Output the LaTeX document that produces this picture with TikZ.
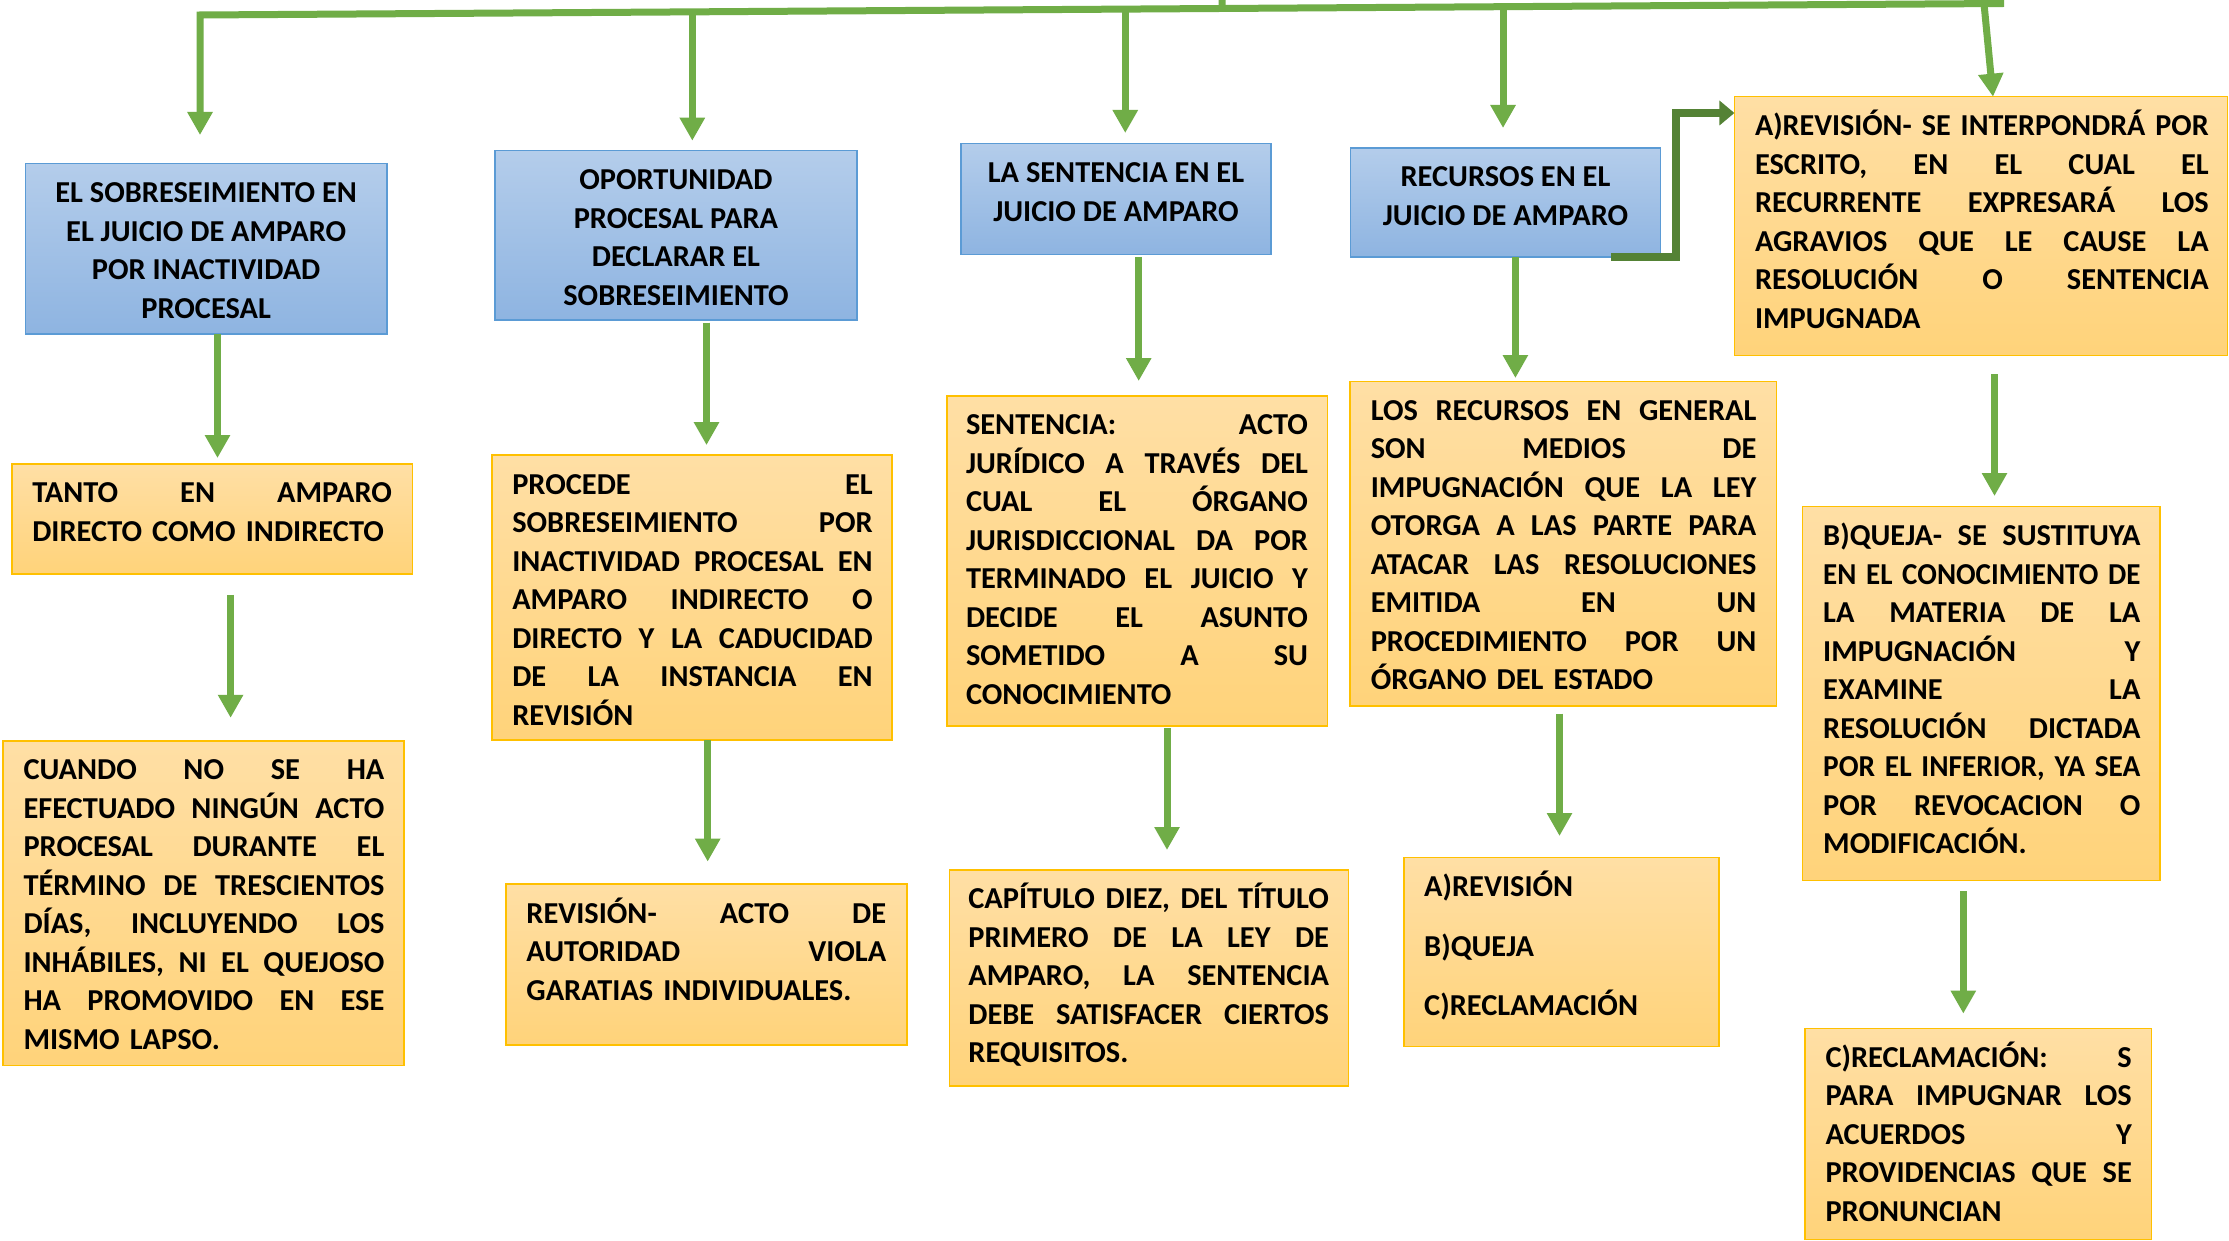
\documentclass[tikz,border=0pt]{standalone}
\usepackage{fontspec}
\setmainfont{Carlito}
\usepackage{graphicx}
\usetikzlibrary{arrows.meta,calc}
\definecolor{grn}{RGB}{112,173,71}
\definecolor{dgrn}{RGB}{84,130,53}
\definecolor{otop}{RGB}{255,223,165}
\definecolor{obot}{RGB}{255,211,122}
\definecolor{oline}{RGB}{255,192,0}
\definecolor{btop}{RGB}{180,205,235}
\definecolor{bbot}{RGB}{142,180,225}
\definecolor{bline}{RGB}{91,155,213}
\newsavebox\jlbox
\newcommand\jl[1]{\sbox\jlbox{#1}\ifdim\wd\jlbox>\hsize\relax\resizebox{\hsize}{\height}{\usebox\jlbox}\else\makebox[\hsize][s]{\spaceskip=\fontdimen2\font plus 1fil\relax #1}\fi}
\begin{document}
\begin{tikzpicture}[x=1pt,y=1pt,line join=miter,
  obox/.style={draw=oline, line width=1.6pt, top color=otop, bottom color=obot, inner sep=0pt, outer sep=0pt, anchor=north west},
  bbox/.style={draw=bline, line width=1.6pt, top color=btop, bottom color=bbot, inner sep=0pt, outer sep=0pt, anchor=north west},
  txt/.style={inner sep=0pt, outer sep=0pt, anchor=north west, align=left, font=\fontsize{30.4}{38.5}\selectfont\bfseries},
  btxt/.style={inner sep=0pt, outer sep=0pt, anchor=north, align=center, font=\fontsize{30.4}{38.5}\selectfont\bfseries},
  arr/.style={draw=grn, line width=7pt, -{Triangle[width=24pt,length=23pt]}},
  darr/.style={draw=dgrn, line width=8pt, -{Triangle[width=24pt,length=15pt]}},
  gline/.style={draw=grn, line width=7pt}]
\useasboundingbox (0,0) rectangle (2229,-1241);
\fill[white] (0,0) rectangle (2229,-1241);

% boxes
\node[bbox, minimum width=361.1pt, minimum height=170.6pt] (b1) at (25.6,-163.5) {};
\node[bbox, minimum width=362.5pt, minimum height=169.2pt] (b2) at (494.7,-150.7) {};
\node[bbox, minimum width=309.9pt, minimum height=110.9pt] (b3) at (961,-143.6) {};
\node[bbox, minimum width=309.9pt, minimum height=109.5pt] (b4) at (1350.5,-147.8) {};
\node[obox, minimum width=493.2pt, minimum height=258.7pt] (b5) at (1734.4,-96.7) {};
\node[obox, minimum width=400.8pt, minimum height=110.2pt] (b6) at (11.7,-463.7) {};
\node[obox, minimum width=400.2pt, minimum height=284.9pt] (b7) at (491.8,-455.1) {};
\node[obox, minimum width=380.6pt, minimum height=330.3pt] (b8) at (946.7,-395.7) {};
\node[obox, minimum width=426.4pt, minimum height=324.6pt] (b9) at (1350,-381.4) {};
\node[obox, minimum width=357.6pt, minimum height=374pt] (b10) at (1802.4,-506.5) {};
\node[obox, minimum width=400.8pt, minimum height=324.5pt] (b11) at (3,-740.8) {};
\node[obox, minimum width=400.8pt, minimum height=160.9pt] (b12) at (505.9,-884) {};
\node[obox, minimum width=399pt, minimum height=216.3pt] (b13) at (949.4,-869.8) {};
\node[obox, minimum width=315pt, minimum height=189pt] (b14) at (1404.2,-857.5) {};
\node[obox, minimum width=346.6pt, minimum height=211.3pt] (b15) at (1805,-1028.3) {};

% blue texts
\node[btxt] (t1) at ([yshift=-12.05pt]b1.north) {\strut EL SOBRESEIMIENTO EN\\EL JUICIO DE AMPARO\\POR INACTIVIDAD\\PROCESAL};
\node[btxt] (t2) at ([yshift=-12.05pt]b2.north) {\strut OPORTUNIDAD\\PROCESAL PARA\\DECLARAR EL\\SOBRESEIMIENTO};
\node[btxt] (t3) at ([yshift=-12.05pt]b3.north) {\strut LA SENTENCIA EN EL\\JUICIO DE AMPARO};
\node[btxt] (t4) at ([yshift=-12.05pt]b4.north) {\strut RECURSOS EN EL\\JUICIO DE AMPARO};

% orange texts
\node[txt, text width=453.7pt] (t5) at ([xshift=20.6pt,yshift=-12.05pt]b5.north west) {\strut\jl{A)REVISIÓN- SE INTERPONDRÁ POR}\\\jl{ESCRITO, EN EL CUAL EL}\\\jl{RECURRENTE EXPRESARÁ LOS}\\\jl{AGRAVIOS QUE LE CAUSE LA}\\\jl{RESOLUCIÓN O SENTENCIA}\\IMPUGNADA};
\node[txt, text width=359.7pt] (t6) at ([xshift=20.6pt,yshift=-12.05pt]b6.north west) {\strut\jl{TANTO EN AMPARO}\\DIRECTO COMO INDIRECTO};
\node[txt, text width=360.4pt] (t7) at ([xshift=20.5pt,yshift=-12.05pt]b7.north west) {\strut\jl{PROCEDE EL}\\\jl{SOBRESEIMIENTO POR}\\\jl{INACTIVIDAD PROCESAL EN}\\\jl{AMPARO INDIRECTO O}\\\jl{DIRECTO Y LA CADUCIDAD}\\\jl{DE LA INSTANCIA EN}\\REVISIÓN};
\node[txt, text width=342pt] (t8) at ([xshift=19.3pt,yshift=-12.05pt]b8.north west) {\strut\jl{SENTENCIA: ACTO}\\\jl{JURÍDICO A TRAVÉS DEL}\\\jl{CUAL EL ÓRGANO}\\\jl{JURISDICCIONAL DA POR}\\\jl{TERMINADO EL JUICIO Y}\\\jl{DECIDE EL ASUNTO}\\\jl{SOMETIDO A SU}\\CONOCIMIENTO};
\node[txt, text width=385.6pt] (t9) at ([xshift=20.8pt,yshift=-12.05pt]b9.north west) {\strut\jl{LOS RECURSOS EN GENERAL}\\\jl{SON MEDIOS DE}\\\jl{IMPUGNACIÓN QUE LA LEY}\\\jl{OTORGA A LAS PARTE PARA}\\\jl{ATACAR LAS RESOLUCIONES}\\\jl{EMITIDA EN UN}\\\jl{PROCEDIMIENTO POR UN}\\ÓRGANO DEL ESTADO};
\node[txt, text width=317.2pt] (t10) at ([xshift=20.8pt,yshift=-12.05pt]b10.north west) {\strut\jl{B)QUEJA- SE SUSTITUYA}\\\jl{EN EL CONOCIMIENTO DE}\\\jl{LA MATERIA DE LA}\\\jl{IMPUGNACIÓN Y}\\\jl{EXAMINE LA}\\\jl{RESOLUCIÓN DICTADA}\\\jl{POR EL INFERIOR, YA SEA}\\\jl{POR REVOCACION O}\\MODIFICACIÓN.};
\node[txt, text width=360.9pt] (t11) at ([xshift=20.5pt,yshift=-12.05pt]b11.north west) {\strut\jl{CUANDO NO SE HA}\\\jl{EFECTUADO NINGÚN ACTO}\\\jl{PROCESAL DURANTE EL}\\\jl{TÉRMINO DE TRESCIENTOS}\\\jl{DÍAS, INCLUYENDO LOS}\\\jl{INHÁBILES, NI EL QUEJOSO}\\\jl{HA PROMOVIDO EN ESE}\\MISMO LAPSO.};
\node[txt, text width=359.8pt] (t12) at ([xshift=20.5pt,yshift=-12.05pt]b12.north west) {\strut\jl{REVISIÓN- ACTO DE}\\\jl{AUTORIDAD VIOLA}\\GARATIAS INDIVIDUALES.};
\node[txt, text width=360.6pt] (t13) at ([xshift=19pt,yshift=-12.05pt]b13.north west) {\strut\jl{CAPÍTULO DIEZ, DEL TÍTULO}\\\jl{PRIMERO DE LA LEY DE}\\\jl{AMPARO, LA SENTENCIA}\\\jl{DEBE SATISFACER CIERTOS}\\REQUISITOS.};
\node[txt] (t14) at ([xshift=20pt,yshift=-12.05pt]b14.north west) {\strut A)REVISIÓN\\[21.2pt]B)QUEJA\\[21.2pt]C)RECLAMACIÓN};
\node[txt, text width=306.3pt] (t15) at ([xshift=20.5pt,yshift=-12.05pt]b15.north west) {\strut\jl{C)RECLAMACIÓN: S}\\\jl{PARA IMPUGNAR LOS}\\\jl{ACUERDOS Y}\\\jl{PROVIDENCIAS QUE SE}\\PRONUNCIAN};

% top connector
\coordinate (tl) at (200,-15);
\coordinate (tr) at (2004,-3.5);
\coordinate (ts) at (1222,0);
\draw[arr, shorten >=28.5pt] (tr) -- (tl) -- (tl |- b1.north);
\draw[gline] (ts) -- ($(tl)!0.5666!(tr)$);
\draw[arr, shorten >=10pt] ($(tl)!0.2729!(tr)$) coordinate (j2) -- (j2 |- b2.north);
\draw[arr, shorten >=10.6pt] ($(tl)!0.5129!(tr)$) coordinate (j3) -- (j3 |- b3.north);
\draw[arr, shorten >=19.8pt] ($(tl)!0.7223!(tr)$) coordinate (j4) -- (j4 |- b4.north);
\draw[arr] ($(tl)!0.9889!(tr)$) -- (1993,0 |- b5.north);

% vertical connectors
\draw[arr, shorten >=5.7pt] (217.5,0 |- b1.south) -- (217.5,0 |- b6.north);
\draw[arr, shorten <=21pt, shorten >=23pt] (230.6,0 |- b6.south) -- (230.6,0 |- b11.north);
\draw[arr, shorten <=2.8pt, shorten >=10pt] (706.5,0 |- b2.south) -- (706.5,0 |- b7.north);
\draw[arr, shorten >=22.4pt] (707.7,0 |- b7.south) -- (707.7,0 |- b12.north);
\draw[arr, shorten <=2.5pt, shorten >=14.7pt] (1138.7,0 |- b3.south) -- (1138.7,0 |- b8.north);
\draw[arr, shorten <=2pt, shorten >=19.8pt] (1167,0 |- b8.south) -- (1167,0 |- b13.north);
\draw[arr, shorten >=3.4pt] (1515.4,0 |- b4.south) -- (1515.4,0 |- b9.north);
\draw[arr, shorten <=7.6pt, shorten >=21.5pt] (1559.5,0 |- b9.south) -- (1559.5,0 |- b14.north);
\draw[arr, shorten <=18.6pt, shorten >=10.5pt] (1994.5,0 |- b5.south) -- (1994.5,0 |- b10.north);
\draw[arr, shorten <=10.5pt, shorten >=14.7pt] (1963.3,0 |- b10.south) -- (1963.3,0 |- b15.north);

% dark elbow
\draw[darr] ([xshift=-49.4pt]b4.south east) -- ++(65pt,0) |- ([yshift=-16.3pt]b5.north west);
\end{tikzpicture}
\end{document}
